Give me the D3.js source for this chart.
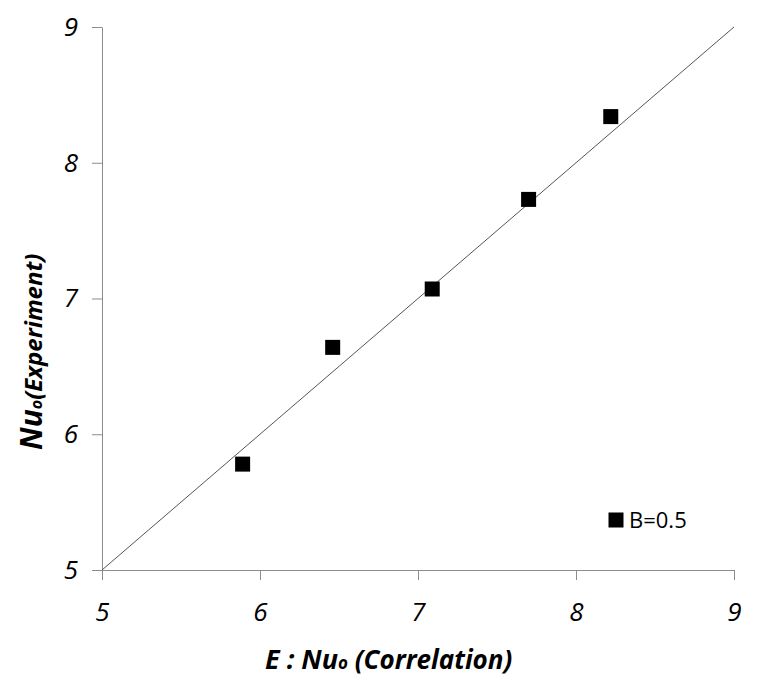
<!DOCTYPE html>
<html>
<head>
<meta charset="utf-8">
<script src="https://cdn.jsdelivr.net/npm/d3@7"></script>
<style>
  body { margin: 0; background: #fff; }
  svg { display: block; font-family: "Open Sans", sans-serif; }
</style>
</head>
<body>
<svg width="767" height="690"></svg>
<script>
// data
var correlation = [5.89, 6.46, 7.09, 7.70, 8.22];
var experiment = [5.78, 6.64, 7.07, 7.73, 8.34];
var tickValues = [5, 6, 7, 8, 9];
var seriesName = "B=0.5";

var svg = d3.select("svg"),
    margin = {top: 27, left: 102},
    width = 632,
    height = 543;

var g = svg.append("g")
    .attr("transform", "translate(" + margin.left + "," + margin.top + ")");

var x = d3.scaleLinear().domain([5, 9]).range([0, width]);
var y = d3.scaleLinear().domain([5, 9]).range([height, 0]);

// axes
var xAxis = g.append("g")
    .attr("transform", "translate(0," + height + ")")
    .call(d3.axisBottom(x).tickValues(tickValues).tickFormat(d3.format("d"))
        .tickSize(10).tickSizeOuter(0).tickPadding(23));

var yAxis = g.append("g")
    .call(d3.axisLeft(y).tickValues(tickValues).tickFormat(d3.format("d"))
        .tickSize(10).tickSizeOuter(0).tickPadding(14));

[xAxis, yAxis].forEach(function (a) {
    a.selectAll("path, line").attr("stroke", "#8c8c8c");
    a.selectAll("text")
        .attr("fill", "#000")
        .style("font-size", "26px")
        .style("font-style", "italic")
        .style("font-family", "'Open Sans', sans-serif");
});

// 1:1 line
g.append("line")
    .attr("x1", x(5)).attr("y1", y(5))
    .attr("x2", x(9)).attr("y2", y(9))
    .attr("stroke", "#555")
    .attr("stroke-width", 1);

// points
var size = 15;
g.selectAll(".pt")
    .data(correlation)
    .enter()
    .append("rect")
    .attr("class", "pt")
    .attr("x", function (d) { return x(d) - size / 2; })
    .attr("y", function (d, i) { return y(experiment[i]) - size / 2; })
    .attr("width", size)
    .attr("height", size)
    .attr("fill", "#000");

// legend
var legend = svg.append("g").attr("transform", "translate(616,520)");
legend.append("rect")
    .attr("x", -size / 2).attr("y", -size / 2)
    .attr("width", size).attr("height", size)
    .attr("fill", "#000");
legend.append("text")
    .attr("x", 13).attr("y", 8)
    .style("font-size", "22px")
    .text(seriesName);

// x axis title
var xt = svg.append("text")
    .attr("x", 265).attr("y", 669)
    .style("font-weight", "bold")
    .style("font-style", "italic");
xt.append("tspan").style("font-size", "27px").text("E : Nu");
xt.append("tspan").style("font-size", "17px").text("o");
xt.append("tspan").style("font-size", "26px").text(" (Correlation)");

// y axis title
var yt = svg.append("text")
    .attr("transform", "translate(42,450) rotate(-90)")
    .style("font-weight", "bold")
    .style("font-style", "italic");
yt.append("tspan").style("font-size", "30px").text("Nu");
yt.append("tspan").style("font-size", "16px").text("o");
yt.append("tspan").style("font-size", "24px").text("(Experiment)");
</script>
</body>
</html>
